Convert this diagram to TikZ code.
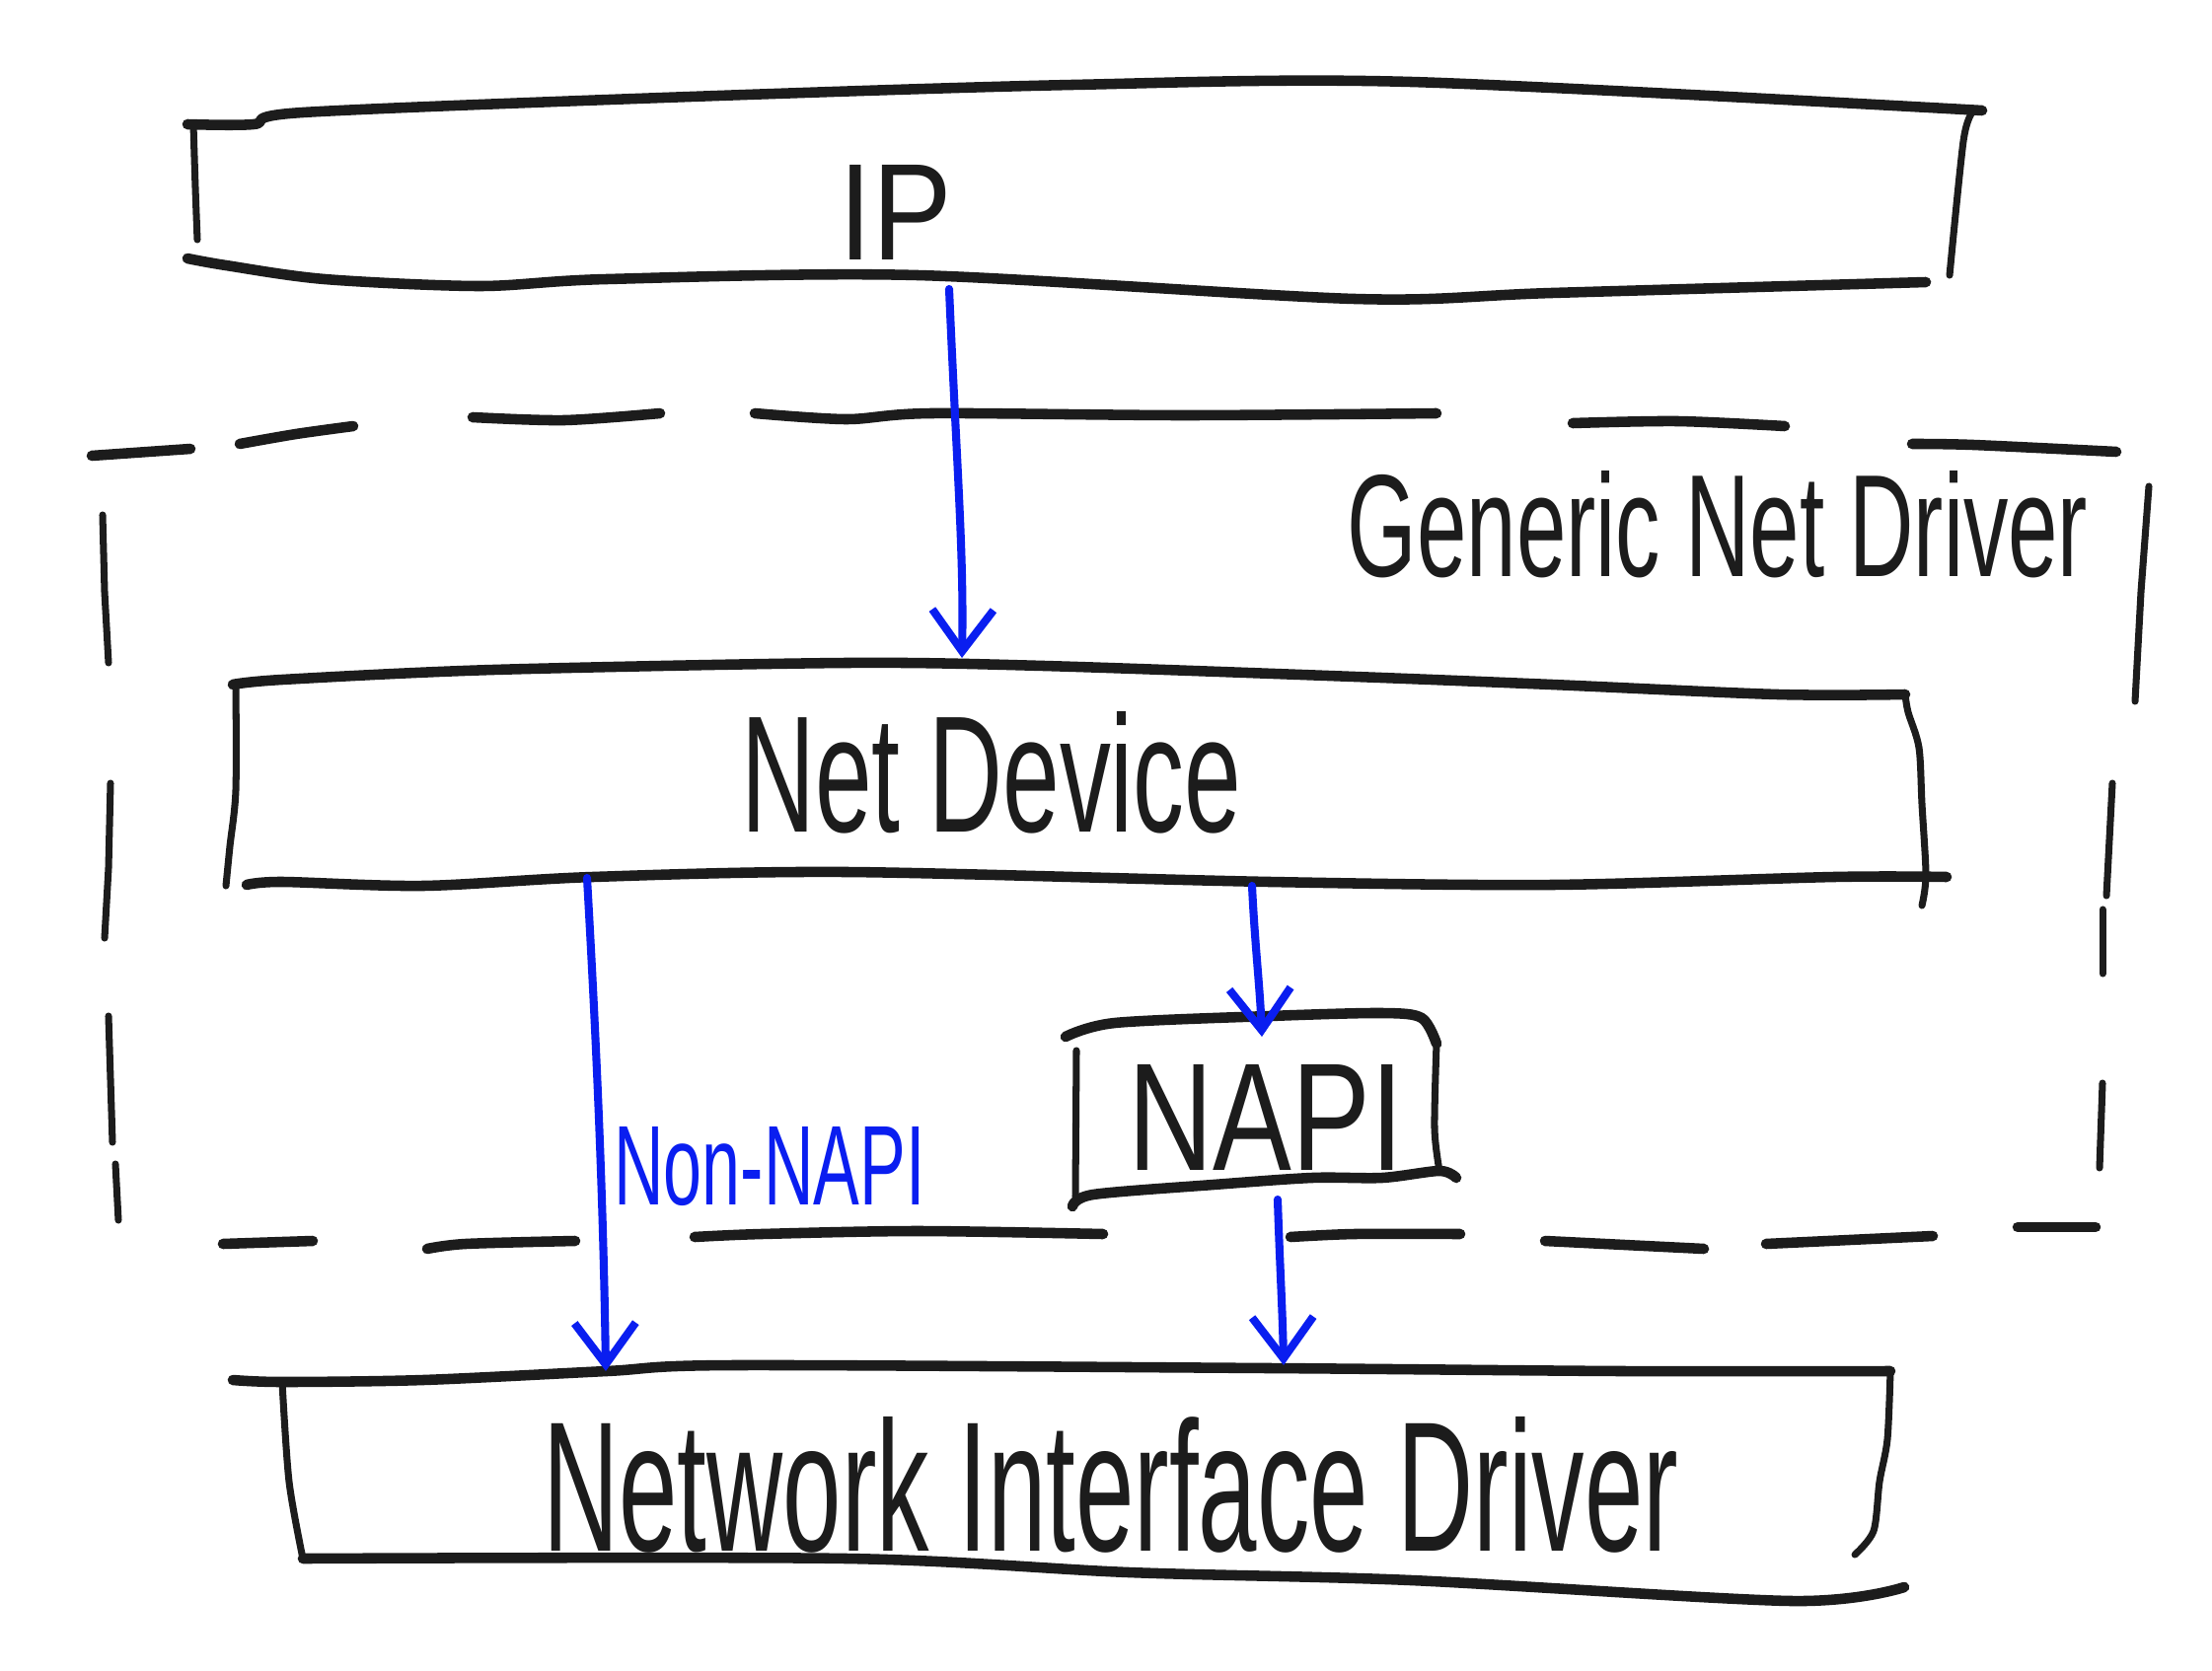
\documentclass[tikz,border=0pt]{standalone}
\usepackage{fontspec}
\setmainfont{Liberation Sans}
\usepackage{graphicx}
\usetikzlibrary{arrows.meta}
\definecolor{ink}{RGB}{28,28,28}
\definecolor{pen}{RGB}{10,30,240}
\tikzset{
  heavy/.style={draw=ink,line width=3pt,line cap=round,line join=round},
  light/.style={draw=ink,line width=2pt,line cap=round,line join=round},
  flow/.style={draw=pen,line width=2.3pt,line cap=round,line join=round,
    -{Straight Barb[length=0.42cm,width=0.62cm,line width=2.3pt]}},
  lbl/.style={inner sep=0pt,outer sep=0pt,text=ink},
  bluelbl/.style={inner sep=0pt,outer sep=0pt,text=pen}
}
\newcommand{\fitto}[3]{\resizebox{#1}{#2}{#3}}
\begin{document}
\begin{tikzpicture}[x=0.01cm,y=-0.01cm]
\useasboundingbox[fill=white] (0,0) rectangle (2242,1694);

% ---------- IP box ----------
\draw[heavy] plot[smooth] coordinates {(190,126)(257,126)(307,114)(700,98)(1087,86)(1430,83)(2009,112)};
\draw[light] plot[smooth] coordinates {(196,126)(198,190)(200,243)};
\draw[heavy] plot[smooth] coordinates {(190,262)(229,269)(329,283)(486,290)(615,283)(930,279)(1373,303)(1573,297)(1952,286)};
\draw[light] plot[smooth] coordinates {(1999,114)(1990,143)(1976,279)};
\node[lbl] (ip) at (908,215) {\fitto{1.14cm}{0.96cm}{IP}};

% ---------- Generic Net Driver (dashed box) ----------
\draw[heavy] (93,462) -- (193,455);
\draw[heavy] plot[smooth] coordinates {(243,450)(300,440)(358,432)};
\draw[heavy] plot[smooth] coordinates {(479,423)(572,426)(669,419)};
\draw[heavy] plot[smooth] coordinates {(765,419)(858,425)(944,419)(1200,421)(1456,419)};
\draw[heavy] plot[smooth] coordinates {(1594,429)(1700,427)(1809,432)};
\draw[heavy] plot[smooth] coordinates {(1938,450)(2000,451)(2145,458)};
\draw[light] (104,522) -- (106,600) -- (110,672);
\draw[light] (112,794) -- (110,880) -- (106,951);
\draw[light] (110,1030) -- (114,1158);
\draw[light] (117,1180) -- (120,1237);
\draw[light] (2178,493) -- (2170,600) -- (2164,711);
\draw[light] (2141,794) -- (2135,908);
\draw[light] (2131,922) -- (2131,987);
\draw[light] (2131,1098) -- (2128,1184);
\draw[heavy] (226,1261) -- (317,1258);
\draw[heavy] plot[smooth] coordinates {(433,1266)(472,1261)(583,1258)};
\draw[heavy] plot[smooth] coordinates {(704,1254)(772,1251)(930,1248)(1118,1251)};
\draw[heavy] plot[smooth] coordinates {(1308,1254)(1373,1251)(1480,1251)};
\draw[heavy] (1566,1258) -- (1727,1266);
\draw[heavy] (1790,1261) -- (1959,1253);
\draw[heavy] (2045,1244) -- (2124,1244);
\node[lbl] (gnd) at (1741,532) {\fitto{7.5cm}{1.07cm}{Generic Net Driver}};

% ---------- Net Device ----------
\draw[heavy] plot[smooth] coordinates {(236,694)(286,689)(500,679)(858,672)(1058,675)(1373,686)(1573,694)(1802,704)(1931,704)};
\draw[light] plot[smooth] coordinates {(239,694)(239,801)(233,858)(229,898)};
\draw[light] plot[smooth] coordinates {(1931,704)(1934,722)(1945,758)(1948,815)(1952,887)(1948,918)};
\draw[heavy] plot[smooth] coordinates {(250,897)(286,894)(429,898)(601,889)(858,884)(1287,894)(1573,897)(1859,889)(1973,889)};
\node[lbl] (nd) at (1005,783) {\fitto{5.07cm}{1.22cm}{Net Device}};

% ---------- NAPI ----------
\draw[heavy] plot[smooth] coordinates {(1080,1051)(1130,1037)(1287,1030)(1401,1027)(1441,1032)(1456,1058)};
\draw[light] (1091,1065) -- (1090,1213);
\draw[light] plot[smooth] coordinates {(1456,1058)(1454,1144)(1459,1187)};
\draw[heavy] plot[smooth] coordinates {(1087,1223)(1108,1211)(1230,1201)(1330,1194)(1401,1194)(1459,1187)(1476,1194)};
\node[lbl] (napi) at (1283,1133) {\fitto{2.79cm}{1.07cm}{NAPI}};

% ---------- Network Interface Driver ----------
\draw[heavy] plot[smooth] coordinates {(236,1399)(286,1401)(429,1399)(615,1390)(744,1384)(1287,1387)(1645,1390)(1916,1390)};
\draw[light] plot[smooth] coordinates {(286,1401)(293,1502)(307,1580)};
\draw[light] plot[smooth] coordinates {(1916,1390)(1913,1459)(1905,1502)(1899,1552)(1880,1576)};
\draw[heavy] plot[smooth] coordinates {(307,1580)(858,1580)(1144,1594)(1430,1602)(1816,1623)(1930,1609)};
\node[lbl] (nid) at (1126,1505) {\fitto{11.5cm}{1.36cm}{Network Interface Driver}};

% ---------- arrows ----------
\coordinate (ipout) at (962,293);
\coordinate (ndin) at (975,667);
\coordinate (ndoutA) at (595,890);
\coordinate (nidinA) at (614,1390);
\coordinate (ndoutB) at (1269,898);
\coordinate (napiin) at (1279,1051);
\coordinate (napiout) at (1295,1216);
\coordinate (nidinB) at (1301,1384);
\draw[flow] (ipout) .. controls (970,480) and (977,560) .. (ndin);
\draw[flow] (ndoutA) .. controls (607,1100) and (612,1250) .. (nidinA);
\draw[flow] (ndoutB) .. controls (1272,960) and (1277,1000) .. (napiin);
\draw[flow] (napiout) .. controls (1297,1280) and (1300,1330) .. (nidinB);
\node[bluelbl] (nonnapi) at (780,1183) {\fitto{3.15cm}{0.79cm}{Non-NAPI}};
\end{tikzpicture}
\end{document}
